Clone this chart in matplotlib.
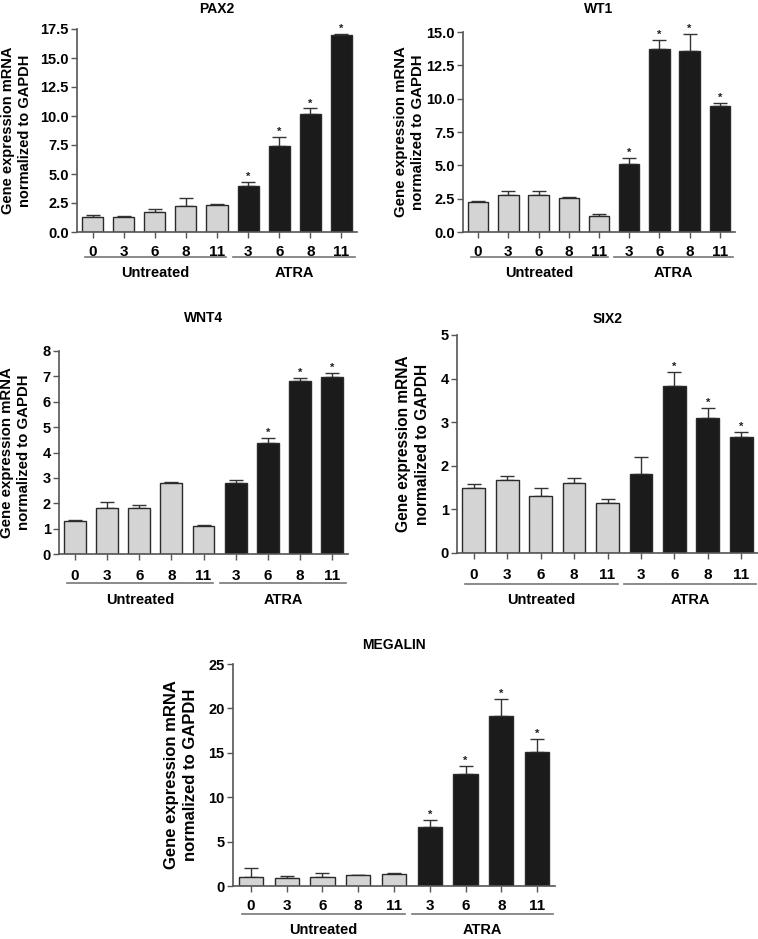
import numpy as np
import matplotlib
matplotlib.use("Agg")
import matplotlib.pyplot as plt

plt.rcParams['font.family'] = ['Liberation Sans', 'DejaVu Sans']
plt.rcParams['font.weight'] = 'bold'

days = ['0', '3', '6', '8', '11', '3', '6', '8', '11']
groups = ['Untreated', 'ATRA']
ylabel = 'Gene expression mRNA\nnormalized to GAPDH'

pax2 = [1.30, 1.30, 1.70, 2.25, 2.30, 4.00, 7.43, 10.2, 16.95]
pax2_err = [0.18, 0.08, 0.28, 0.70, 0.08, 0.30, 0.80, 0.45, 0.15]
pax2_sig = [0, 0, 0, 0, 0, 1, 1, 1, 1]

wt1 = [2.25, 2.80, 2.80, 2.52, 1.20, 5.10, 13.75, 13.6, 9.47]
wt1_err = [0.05, 0.30, 0.30, 0.13, 0.15, 0.45, 0.65, 1.25, 0.20]
wt1_sig = [0, 0, 0, 0, 0, 1, 1, 1, 1]

wnt4 = [1.31, 1.83, 1.83, 2.81, 1.10, 2.79, 4.37, 6.82, 6.98]
wnt4_err = [0.04, 0.21, 0.11, 0.04, 0.06, 0.13, 0.21, 0.12, 0.14]
wnt4_sig = [0, 0, 0, 0, 0, 0, 1, 1, 1]

six2 = [1.50, 1.67, 1.31, 1.60, 1.15, 1.82, 3.83, 3.09, 2.67]
six2_err = [0.08, 0.09, 0.17, 0.13, 0.09, 0.38, 0.32, 0.24, 0.10]
six2_sig = [0, 0, 0, 0, 0, 0, 1, 1, 1]

megalin = [0.98, 0.94, 0.98, 1.20, 1.36, 6.63, 12.65, 19.1, 15.06]
megalin_err = [1.05, 0.15, 0.50, 0.08, 0.07, 0.82, 0.90, 2.00, 1.50]
megalin_sig = [0, 0, 0, 0, 0, 1, 1, 1, 1]

W, H = 758, 939
fig = plt.figure(figsize=(W / 100, H / 100), dpi=100)

AX_COL = '#555555'


def panel(box, title, vals, errs, sig, ymax, ystep, fmt, title_off, lab_off,
          lab_size, tick_off, line_off, grp_off):
    l, t, r, b = box
    ax = fig.add_axes([l / W, 1 - b / H, (r - l) / W, (b - t) / H])
    hpx = b - t
    x = np.arange(len(vals))
    cols = ['#d4d4d4'] * 5 + ['#1b1b1b'] * 4
    lo = np.zeros(len(vals))
    ax.bar(x, vals, width=0.68, color=cols, edgecolor='#2a2a2a', linewidth=1.0, zorder=2)
    ax.errorbar(x, vals, yerr=[lo, errs], fmt='none', ecolor='#333333',
                elinewidth=1.0, capsize=5, capthick=1.0, zorder=1)
    for xi, v, e, s in zip(x, vals, errs, sig):
        if s:
            ax.text(xi, v + e, '*', ha='center', va='bottom', fontsize=8,
                    color='#222222')
    ticks = np.arange(0, ymax + ystep / 2, ystep)
    ax.set_xlim(-0.5, 8.5)
    ax.set_ylim(0, ymax)
    ax.set_yticks(ticks)
    ax.set_yticklabels([fmt.format(v) for v in ticks], fontsize=10.5)
    ax.set_xticks(x)
    ax.set_xticklabels(days, fontsize=11)
    ax.tick_params(axis='x', length=4, width=1, color=AX_COL, pad=tick_off)
    ax.tick_params(axis='y', length=4, width=1, color=AX_COL, pad=2)
    for sp in ['top', 'right']:
        ax.spines[sp].set_visible(False)
    for sp in ['left', 'bottom']:
        ax.spines[sp].set_color(AX_COL)
        ax.spines[sp].set_linewidth(1.2)
    ax.set_ylabel(ylabel, fontsize=lab_size, fontweight='bold', linespacing=1.3)
    ax.yaxis.set_label_coords(-lab_off / (r - l), 0.5)
    ax.text(0.5, 1 + title_off / hpx, title, transform=ax.transAxes,
            ha='center', va='center', fontsize=10)
    yl = -line_off / hpx
    yg = -grp_off / hpx
    tr = ax.get_xaxis_transform()
    for (x0, x1), g in zip([(-0.25, 4.3), (4.5, 8.45)], groups):
        ax.plot([x0, x1], [yl, yl], color='#777777', lw=1.2, transform=tr,
                clip_on=False)
        ax.text((x0 + x1) / 2, yg, g, transform=tr, ha='center', va='center',
                fontsize=10.5)
    return ax


panel((77, 29, 357, 232), 'PAX2', pax2, pax2_err, pax2_sig, 17.5, 2.5, '{:.1f}',
      20, 45, 10.5, 5, 25, 41)
panel((463, 32, 735, 232), 'WT1', wt1, wt1_err, wt1_sig, 15.0, 2.5, '{:.1f}',
      23, 38, 10.8, 5, 25, 41)
panel((59, 351, 348, 554), 'WNT4', wnt4, wnt4_err, wnt4_sig, 8, 1, '{:.0f}',
      33, 28, 10.8, 7, 29, 46)
panel((457, 335, 758, 553), 'SIX2', six2, six2_err, six2_sig, 5, 1, '{:.0f}',
      16, 27, 11.2, 7, 31, 47)
panel((233, 664, 555, 886), 'MEGALIN', megalin, megalin_err, megalin_sig, 25, 5,
      '{:.0f}', 19, 35, 12, 5, 28, 44)

fig.savefig('out.png', dpi=100)
